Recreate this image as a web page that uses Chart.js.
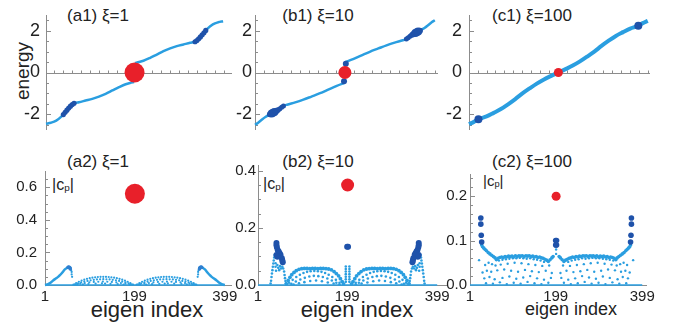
<!DOCTYPE html>
<html><head><meta charset="utf-8">
<script src="https://cdn.jsdelivr.net/npm/chart.js@4.4.1/dist/chart.umd.min.js"></script>
<style>
html,body{margin:0;padding:0;background:#fff;}
body{width:699px;height:331px;position:relative;overflow:hidden;font-family:"Liberation Sans",Arial,sans-serif;color:#222;}
canvas{position:absolute;}
.t{position:absolute;white-space:nowrap;line-height:1;}
.c{transform:translateX(-50%);}
sub{font-size:0.62em;vertical-align:-0.1em;}
</style></head><body>

<div class="t c" style="left:98px;top:7px;font-size:17px">(a1) ξ=1</div>
<div class="t c" style="left:318px;top:7px;font-size:17px">(b1) ξ=10</div>
<div class="t c" style="left:532px;top:7px;font-size:17px">(c1) ξ=100</div>
<div class="t c" style="left:98px;top:153px;font-size:17px">(a2) ξ=1</div>
<div class="t c" style="left:318px;top:153px;font-size:17px">(b2) ξ=10</div>
<div class="t c" style="left:532px;top:153px;font-size:17px">(c2) ξ=100</div>
<div class="t" style="left:22px;top:71px;font-size:19px;transform:translate(-50%,-50%) rotate(-90deg)">energy</div>
<div class="t" style="left:52px;top:177px;font-size:16px">|c<sub>p</sub>|</div>
<div class="t" style="left:263px;top:176px;font-size:16px">|c<sub>p</sub>|</div>
<div class="t" style="left:483px;top:173px;font-size:15px">|c<sub>p</sub>|</div>
<div class="t c" style="left:147px;top:299px;font-size:22px">eigen index</div>
<div class="t c" style="left:357px;top:299px;font-size:22px">eigen index</div>
<div class="t c" style="left:571px;top:300px;font-size:18px">eigen index</div>

<script>
// ---------- tick labels ----------
const topYTicks = [-2, 0, 2];
const botXTicks = [1, 199, 399];
const a2YTicks = [0, 0.2, 0.4, 0.6];
const b2YTicks = [0, 0.2, 0.4];
const c2YTicks = [0, 0.1, 0.2];

// ---------- (a1) energies, xi = 1 ----------
const a1LowIdx = [1,12,24,36,44,52,60,66,75,90,105,120,135,150,165,180,190,199];
const a1LowE   = [-2.45,-2.40,-2.30,-2.10,-1.90,-1.70,-1.53,-1.46,-1.42,-1.34,-1.26,-1.15,-1.02,-0.86,-0.70,-0.56,-0.50,-0.46];
const a1UpIdx  = [201,210,220,235,250,265,280,295,310,325,334,340,348,356,364,376,388,399];
const a1UpE    = [0.46,0.50,0.56,0.70,0.86,1.02,1.15,1.26,1.34,1.42,1.46,1.53,1.70,1.90,2.10,2.30,2.40,2.45];
const a1DarkIdx = [40,44,48,52,56,60,64,336,340,344,348,352,356,360];
const a1DarkE   = [-2.01,-1.90,-1.80,-1.70,-1.61,-1.53,-1.47,1.47,1.53,1.61,1.70,1.80,1.90,2.01];
const a1Zero = [200, 0];

// ---------- (b1) energies, xi = 10 ----------
const b1LowIdx = [1,8,16,24,32,40,48,56,64,72,90,108,126,145,163,182,199];
const b1LowE   = [-2.50,-2.40,-2.26,-2.13,-2.03,-1.93,-1.82,-1.70,-1.60,-1.54,-1.43,-1.30,-1.15,-0.99,-0.82,-0.64,-0.50];
const b1UpIdx  = [201,218,237,255,274,292,310,328,336,344,352,360,368,376,384,392,399];
const b1UpE    = [0.50,0.64,0.82,0.99,1.15,1.30,1.43,1.54,1.60,1.70,1.82,1.93,2.03,2.13,2.26,2.40,2.50];
const b1DarkIdx = [34,38,41,44,47,50,53,56,60,64,198,202,336,340,344,347,350,353,356,359,362,366];
const b1DarkE   = [-2.00,-1.96,-1.93,-1.89,-1.86,-1.82,-1.78,-1.73,-1.66,-1.60,-0.42,0.42,1.60,1.66,1.73,1.78,1.82,1.86,1.89,1.93,1.96,2.00];
const b1DarkR   = [3,4,4,4,3,3,2.5,2.5,2.5,2.5,3,3,2.5,2.5,2.5,2.5,3,3,4,4,4,3];
const b1Zero = [200, 0];

// ---------- (c1) energies, xi = 100 ----------
const c1Idx = [1,12,24,40,56,72,88,104,120,136,152,168,184,200,216,232,248,264,280,296,312,328,344,360,376,388,399];
const c1E   = [-2.47,-2.36,-2.22,-2.10,-1.93,-1.75,-1.52,-1.27,-1.00,-0.76,-0.53,-0.33,-0.16,0.00,0.16,0.33,0.53,0.76,1.00,1.27,1.52,1.75,1.93,2.10,2.22,2.36,2.47];
const c1DarkIdx = [22, 378];
const c1DarkE   = [-2.23, 2.23];
const c1Zero = [200, 0];

// ---------- (a2) |c_p|, xi = 1 ----------
const a2PeakL = [[1,0],[8,0.006],[14,0.016],[19,0.028],[25,0.040],[30,0.050],[34,0.060],[38,0.072],[42,0.086],[45,0.096],[49,0.104],[53,0.110],[56,0.109],[58,0.100]];
const a2PeakR = [[342,0.100],[344,0.109],[347,0.110],[351,0.104],[355,0.096],[358,0.086],[362,0.072],[366,0.060],[370,0.050],[375,0.040],[381,0.028],[386,0.016],[392,0.006],[399,0]];
const a2Dark = [[52,0.108],[54,0.110],[56,0.106],[57,0.099],[343,0.099],[344,0.106],[346,0.110],[348,0.108]];
const a2Cloud = [
 [59,0.09],[60,0.08],[60,0.065],[61,0.05],[341,0.09],[340,0.08],[340,0.065],[339,0.05],
 [64,0.002],[70,0.012],[76,0.020],[82,0.027],[88,0.033],[94,0.038],[100,0.042],[106,0.045],[112,0.047],[118,0.049],[124,0.050],[130,0.050],[136,0.050],[142,0.049],[148,0.047],[154,0.045],[160,0.042],[166,0.038],[172,0.033],[178,0.027],[184,0.020],[190,0.012],[196,0.003],
 [67,0.004],[74,0.010],[81,0.016],[88,0.021],[95,0.025],[102,0.029],[109,0.032],[116,0.034],[123,0.035],[130,0.036],[137,0.035],[144,0.034],[151,0.032],[158,0.029],[165,0.025],[172,0.021],[179,0.016],[186,0.010],[193,0.004],
 [69,0.003],[79,0.008],[89,0.012],[99,0.016],[109,0.019],[119,0.020],[129,0.021],[139,0.020],[149,0.019],[159,0.016],[169,0.012],[179,0.008],[189,0.003],
 [73,0.001],[85,0.004],[97,0.006],[113,0.008],[127,0.010],[134,0.009],[146,0.007],[162,0.005],[175,0.003],[188,0.001],
 [204,0.003],[210,0.012],[216,0.020],[222,0.027],[228,0.033],[234,0.038],[240,0.042],[246,0.045],[252,0.047],[258,0.049],[264,0.050],[270,0.050],[276,0.050],[282,0.049],[288,0.047],[294,0.045],[300,0.042],[306,0.038],[312,0.033],[318,0.027],[324,0.020],[330,0.012],[336,0.002],
 [207,0.004],[214,0.010],[221,0.016],[228,0.021],[235,0.025],[242,0.029],[249,0.032],[256,0.034],[263,0.035],[270,0.036],[277,0.035],[284,0.034],[291,0.032],[298,0.029],[305,0.025],[312,0.021],[319,0.016],[326,0.010],[333,0.004],
 [211,0.003],[221,0.008],[231,0.012],[241,0.016],[251,0.019],[261,0.020],[271,0.021],[281,0.020],[291,0.019],[301,0.016],[311,0.012],[321,0.008],[331,0.003],
 [212,0.001],[225,0.003],[238,0.005],[254,0.007],[266,0.009],[273,0.010],[287,0.008],[303,0.006],[315,0.004],[327,0.001]
];
const a2Base = [[1,0],[399,0]];
const a2Zero = [200, 0.56];

// ---------- (b2) |c_p|, xi = 10 ----------
const b2Base = [[1,0],[399,0]];
const b2Dark = [[42,0.147],[42,0.139],[43,0.131],[45,0.122],[47,0.117],[49,0.111],[51,0.106],[42,0.105],[44,0.099],[54,0.094],[55,0.086],[56,0.080],
 [199,0.134],[201,0.134],
 [358,0.147],[358,0.139],[357,0.131],[355,0.122],[353,0.117],[351,0.111],[349,0.106],[358,0.105],[356,0.099],[346,0.094],[345,0.086],[344,0.080]];
const b2Band = [
 [64,0.004],[68,0.016],[72,0.027],[76,0.036],[81,0.044],[86,0.050],[92,0.055],[98,0.057],[104,0.058],[110,0.058],[116,0.057],[122,0.058],[128,0.058],[134,0.057],[140,0.058],[146,0.058],[152,0.057],[158,0.056],[164,0.053],[170,0.047],[175,0.040],[180,0.032],[184,0.022],[188,0.012],[191,0.004],
 [336,0.004],[332,0.016],[328,0.027],[324,0.036],[319,0.044],[314,0.050],[308,0.055],[302,0.057],[296,0.058],[290,0.058],[284,0.057],[278,0.058],[272,0.058],[266,0.057],[260,0.058],[254,0.058],[248,0.057],[242,0.056],[236,0.053],[230,0.047],[225,0.040],[220,0.032],[216,0.022],[212,0.012],[209,0.004]
];
const b2Cloud = [
 [29,0.005],[30,0.015],[31,0.028],[32,0.040],[33,0.052],[34,0.064],[35,0.075],[36,0.086],[37,0.096],[38,0.105],[40,0.076],[40,0.064],[41,0.050],[44,0.070],[46,0.060],[48,0.052],[50,0.066],[52,0.058],[55,0.064],[57,0.058],[59,0.047],[60,0.035],[61,0.024],[62,0.014],[63,0.006],
 [371,0.005],[370,0.015],[369,0.028],[368,0.040],[367,0.052],[366,0.064],[365,0.075],[364,0.086],[363,0.096],[362,0.105],[360,0.076],[360,0.064],[359,0.050],[356,0.070],[354,0.060],[352,0.052],[350,0.066],[348,0.058],[345,0.064],[343,0.058],[341,0.047],[340,0.035],[339,0.024],[338,0.014],[337,0.006],
 [70,0.008],[78,0.018],[86,0.028],[94,0.036],[102,0.042],[110,0.046],[118,0.048],[126,0.049],[134,0.048],[142,0.046],[150,0.042],[158,0.036],[166,0.028],[174,0.018],[182,0.008],
 [75,0.004],[85,0.012],[95,0.019],[105,0.025],[115,0.030],[125,0.032],[135,0.031],[145,0.028],[155,0.023],[165,0.016],[175,0.008],
 [80,0.002],[92,0.006],[104,0.010],[117,0.014],[130,0.016],[143,0.013],[156,0.009],[169,0.005],[182,0.002],
 [196,0.065],[196,0.056],[196,0.047],[196,0.038],[196,0.029],[196,0.020],[196,0.011],[204,0.065],[204,0.056],[204,0.047],[204,0.038],[204,0.029],[204,0.020],[204,0.011],
 [330,0.008],[322,0.018],[314,0.028],[306,0.036],[298,0.042],[290,0.046],[282,0.048],[274,0.049],[266,0.048],[258,0.046],[250,0.042],[242,0.036],[234,0.028],[226,0.018],[218,0.008],
 [325,0.004],[315,0.012],[305,0.019],[295,0.025],[285,0.030],[275,0.032],[265,0.031],[255,0.028],[245,0.023],[235,0.016],[225,0.008],
 [320,0.002],[308,0.006],[296,0.010],[283,0.014],[270,0.016],[257,0.013],[244,0.009],[231,0.005],[218,0.002]
];
const b2Zero = [200, 0.35];

// ---------- (c2) |c_p|, xi = 100 ----------
const c2Base = [[1,0],[399,0]];
const c2Dark = [[26,0.151],[26,0.137],[27,0.112],[28,0.097],[199,0.100],[201,0.100],[199,0.090],[201,0.090],[374,0.151],[374,0.137],[373,0.112],[372,0.097]];
const c2Band = [
 [28,0.090],[30,0.086],[33,0.083],[36,0.080],[39,0.077],[43,0.073],[47,0.070],[51,0.067],[55,0.064],[59,0.061],
 [62,0.057],[66,0.060],[70,0.062],[74,0.063],[78,0.062],[82,0.064],[86,0.063],[90,0.065],[94,0.064],[98,0.065],[102,0.063],[106,0.066],[110,0.064],[114,0.066],[118,0.065],[122,0.066],[126,0.064],[130,0.066],[134,0.065],[138,0.066],[142,0.064],[146,0.065],[150,0.063],[154,0.064],[158,0.062],[162,0.063],[166,0.061],[170,0.060],[174,0.058],[178,0.056],[182,0.053],[186,0.057],[190,0.061],[193,0.064],
 [372,0.090],[370,0.086],[367,0.083],[364,0.080],[361,0.077],[357,0.073],[353,0.070],[349,0.067],[345,0.064],[341,0.061],
 [338,0.057],[334,0.060],[330,0.062],[326,0.063],[322,0.062],[318,0.064],[314,0.063],[310,0.065],[306,0.064],[302,0.065],[298,0.063],[294,0.066],[290,0.064],[286,0.066],[282,0.065],[278,0.066],[274,0.064],[270,0.066],[266,0.065],[262,0.066],[258,0.064],[254,0.065],[250,0.063],[246,0.064],[242,0.062],[238,0.063],[234,0.061],[230,0.060],[226,0.058],[222,0.056],[218,0.053],[214,0.057],[210,0.061],[207,0.064]
];
const c2Cloud = [
 [22,0.056],[378,0.056],[200,0.080],[200,0.070],
 [68,0.055],[76,0.057],[84,0.058],[92,0.059],[100,0.060],[108,0.060],[116,0.061],[124,0.060],[132,0.059],[140,0.060],[148,0.058],[156,0.057],[164,0.055],[172,0.052],
 [36,0.045],[44,0.050],[52,0.047],[60,0.044],[72,0.046],[88,0.048],[104,0.050],[120,0.049],[136,0.047],[152,0.045],[168,0.043],[184,0.044],
 [30,0.028],[40,0.032],[50,0.030],[64,0.033],[80,0.035],[96,0.032],[112,0.030],[128,0.034],[144,0.031],[160,0.029],[176,0.032],[190,0.027],
 [34,0.015],[46,0.018],[58,0.013],[76,0.016],[92,0.019],[108,0.014],[124,0.017],[140,0.020],[156,0.015],[172,0.012],[188,0.016],
 [38,0.004],[54,0.003],[70,0.006],[86,0.002],[102,0.005],[118,0.003],[134,0.007],[150,0.004],[166,0.002],[182,0.005],
 [332,0.055],[324,0.057],[316,0.058],[308,0.059],[300,0.060],[292,0.060],[284,0.061],[276,0.060],[268,0.059],[260,0.060],[252,0.058],[244,0.057],[236,0.055],[228,0.052],
 [364,0.045],[356,0.050],[348,0.047],[340,0.044],[328,0.046],[312,0.048],[296,0.050],[280,0.049],[264,0.047],[248,0.045],[232,0.043],[216,0.044],
 [370,0.028],[360,0.032],[350,0.030],[336,0.033],[320,0.035],[304,0.032],[288,0.030],[272,0.034],[256,0.031],[240,0.029],[224,0.032],[210,0.027],
 [366,0.015],[354,0.018],[342,0.013],[324,0.016],[308,0.019],[292,0.014],[276,0.017],[260,0.020],[244,0.015],[228,0.012],[212,0.016],
 [362,0.004],[346,0.003],[330,0.006],[314,0.002],[298,0.005],[282,0.003],[266,0.007],[250,0.004],[234,0.002],[218,0.005]
];
const c2Zero = [200, 0.20];

// ---------- styling ----------
const LB = '#2a9ee0', DB = '#1f52aa', RED = '#e8202a', AX = '#8c8c8c';
const topYMinor = [-2.5,-1.5,-1,-0.5,0.5,1,1.5,2.5];
const topXMinor = [20,40,60,80,100,120,140,160,180,200,220,240,260,280,300,320,340,360,380,400];

const pts = (xs, ys) => xs.map((x, i) => ({x, y: ys[i]}));
const pairs = a => a.map(([x, y]) => ({x, y}));

const axesPlugin = {
  id: 'mAxes',
  beforeDatasetsDraw(chart, args, o) {
    const {ctx, chartArea: ca, scales: {x, y}} = chart;
    ctx.save();
    ctx.strokeStyle = AX; ctx.lineWidth = 1;
    const y0 = Math.round(y.getPixelForValue(0)) + 0.5;
    const xl = Math.round(ca.left) + 0.5;
    ctx.beginPath();
    ctx.moveTo(xl, ca.top); ctx.lineTo(xl, ca.bottom);
    ctx.moveTo(ca.left, y0); ctx.lineTo(ca.right, y0);
    for (const t of (o.yMinor || [])) { const p = Math.round(y.getPixelForValue(t)) + 0.5; ctx.moveTo(xl, p); ctx.lineTo(xl + 2.5, p); }
    for (const t of (o.yMajor || [])) { const p = Math.round(y.getPixelForValue(t)) + 0.5; ctx.moveTo(xl, p); ctx.lineTo(xl + 4.5, p); }
    for (const t of (o.xMinor || [])) { const p = Math.round(x.getPixelForValue(t)) + 0.5; ctx.moveTo(p, y0); ctx.lineTo(p, y0 - 3); }
    ctx.stroke();
    ctx.restore();
  }
};

const noPad = s => { s.paddingTop = 0; s.paddingBottom = 0; s.paddingLeft = 0; s.paddingRight = 0; };

function panel(g) {
  const c = document.createElement('canvas');
  const W = g.yw + (g.right - g.left) + g.pr;
  const H = g.pt + (g.bottom - g.top) + g.xh + g.pb;
  c.width = W; c.height = H;
  c.style.left = (g.left - g.yw) + 'px';
  c.style.top = (g.top - g.pt) + 'px';
  c.style.width = W + 'px'; c.style.height = H + 'px';
  document.body.appendChild(c);
  new Chart(c, {
    type: 'scatter',
    data: { datasets: g.datasets },
    plugins: [axesPlugin],
    options: {
      responsive: false, animation: false, devicePixelRatio: 1, events: [],
      layout: { padding: { top: g.pt, right: g.pr, bottom: g.pb, left: 0 }, autoPadding: false },
      plugins: { legend: { display: false }, tooltip: { enabled: false }, mAxes: g.axes },
      scales: {
        x: {
          type: 'linear', min: g.xr[0], max: g.xr[1], display: g.xh > 0,
          grid: { display: false, drawTicks: false }, border: { display: false },
          afterBuildTicks: s => { s.ticks = botXTicks.map(v => ({ value: v })); },
          ticks: { autoSkip: false, maxRotation: 0, padding: 3, color: '#222',
                   font: { family: '"Liberation Sans", Arial, sans-serif', size: 15 },
                   callback: v => String(v) },
          afterFit: s => { s.height = g.xh; noPad(s); }
        },
        y: {
          type: 'linear', min: g.yr[0], max: g.yr[1],
          grid: { display: false, drawTicks: false }, border: { display: false },
          afterBuildTicks: s => { s.ticks = g.yTicks.map(v => ({ value: v })); },
          ticks: { padding: g.ypad, color: '#222',
                   font: { family: '"Liberation Sans", Arial, sans-serif', size: g.yfs },
                   callback: g.fmt },
          afterFit: s => { s.width = g.yw; noPad(s); }
        }
      }
    }
  });
}

function lineDs(data, color, w) {
  return { data, showLine: true, borderColor: color, backgroundColor: color, borderWidth: w,
           pointRadius: 0, cubicInterpolationMode: 'monotone', clip: false };
}
function dotDs(data, color, r) {
  return { data, showLine: false, backgroundColor: color, borderColor: color, pointRadius: r,
           pointBorderWidth: 0, borderWidth: 0, clip: false };
}

const fmtInt = v => String(v);
const fmt1 = v => v.toFixed(1);

// top row
panel({ left: 46, right: 232, top: 15, bottom: 130, yw: 46, pt: 15, pr: 5, pb: 3, xh: 0,
  xr: [1, 419], yr: [-2.75, 2.75], yTicks: topYTicks, yfs: 18, ypad: 6, fmt: fmtInt,
  axes: { yMinor: topYMinor, yMajor: topYTicks, xMinor: topXMinor },
  datasets: [ dotDs([{x: a1Zero[0], y: a1Zero[1]}], RED, 10),
              dotDs(pts(a1DarkIdx, a1DarkE), DB, 2.6),
              lineDs(pts(a1LowIdx, a1LowE), LB, 2.5),
              lineDs(pts(a1UpIdx, a1UpE), LB, 2.5) ] });

panel({ left: 255, right: 438, top: 15, bottom: 130, yw: 25, pt: 15, pr: 5, pb: 3, xh: 0,
  xr: [1, 406], yr: [-2.75, 2.75], yTicks: topYTicks, yfs: 18, ypad: 3, fmt: fmtInt,
  axes: { yMinor: topYMinor, yMajor: topYTicks, xMinor: topXMinor },
  datasets: [ dotDs([{x: b1Zero[0], y: b1Zero[1]}], RED, 6.5),
              dotDs(pts(b1DarkIdx, b1DarkE), DB, b1DarkR),
              lineDs(pts(b1LowIdx, b1LowE), LB, 2.5),
              lineDs(pts(b1UpIdx, b1UpE), LB, 2.5) ] });

panel({ left: 469, right: 650, top: 15, bottom: 130, yw: 28, pt: 15, pr: 8, pb: 3, xh: 0,
  xr: [1, 404], yr: [-2.75, 2.75], yTicks: topYTicks, yfs: 18, ypad: 7, fmt: fmtInt,
  axes: { yMinor: topYMinor, yMajor: topYTicks, xMinor: topXMinor },
  datasets: [ dotDs([{x: c1Zero[0], y: c1Zero[1]}], RED, 4.5),
              dotDs(pts(c1DarkIdx, c1DarkE), DB, 4),
              lineDs(pts(c1Idx, c1E), LB, 4) ] });

// bottom row
panel({ left: 45, right: 232, top: 171, bottom: 285, yw: 45, pt: 6, pr: 6, pb: 0, xh: 30,
  xr: [1, 415], yr: [0, 0.7], yTicks: a2YTicks, yfs: 15, ypad: 8, fmt: fmt1,
  axes: { yMinor: [0.05,0.1,0.15,0.25,0.3,0.35,0.45,0.5,0.55,0.65], yMajor: a2YTicks },
  datasets: [ dotDs([{x: a2Zero[0], y: a2Zero[1]}], RED, 10),
              dotDs(pairs(a2Dark), '#2f7fd0', 1.8),
              lineDs(pairs(a2PeakL), LB, 2.5),
              lineDs(pairs(a2PeakR), LB, 2.5),
              dotDs(pairs(a2Cloud), LB, 1.1),
              lineDs(pairs(a2Base), LB, 1.5) ] });

panel({ left: 258, right: 448, top: 165, bottom: 285, yw: 28, pt: 6, pr: 6, pb: 0, xh: 30,
  xr: [1, 423], yr: [0, 0.42], yTicks: b2YTicks, yfs: 15, ypad: 2, fmt: fmt1,
  axes: { yMinor: [0.05,0.1,0.15,0.25,0.3,0.35], yMajor: b2YTicks },
  datasets: [ dotDs([{x: b2Zero[0], y: b2Zero[1]}], RED, 6.5),
              dotDs(pairs(b2Dark), DB, 3),
              dotDs(pairs(b2Band), LB, 1.9),
              dotDs(pairs(b2Cloud), LB, 1.3),
              lineDs(pairs(b2Base), LB, 1.5) ] });

panel({ left: 470, right: 647, top: 174, bottom: 285, yw: 28, pt: 6, pr: 12, pb: 0, xh: 30,
  xr: [1, 410], yr: [0, 0.25], yTicks: c2YTicks, yfs: 15, ypad: 3, fmt: fmt1,
  axes: { yMinor: [0.02,0.04,0.06,0.08,0.12,0.14,0.16,0.18,0.22,0.24], yMajor: c2YTicks },
  datasets: [ dotDs([{x: c2Zero[0], y: c2Zero[1]}], RED, 4.5),
              dotDs(pairs(c2Dark), DB, 2.8),
              dotDs(pairs(c2Band), LB, 1.8),
              dotDs(pairs(c2Cloud), LB, 1.2),
              lineDs(pairs(c2Base), LB, 1.5) ] });
</script>
</body></html>
